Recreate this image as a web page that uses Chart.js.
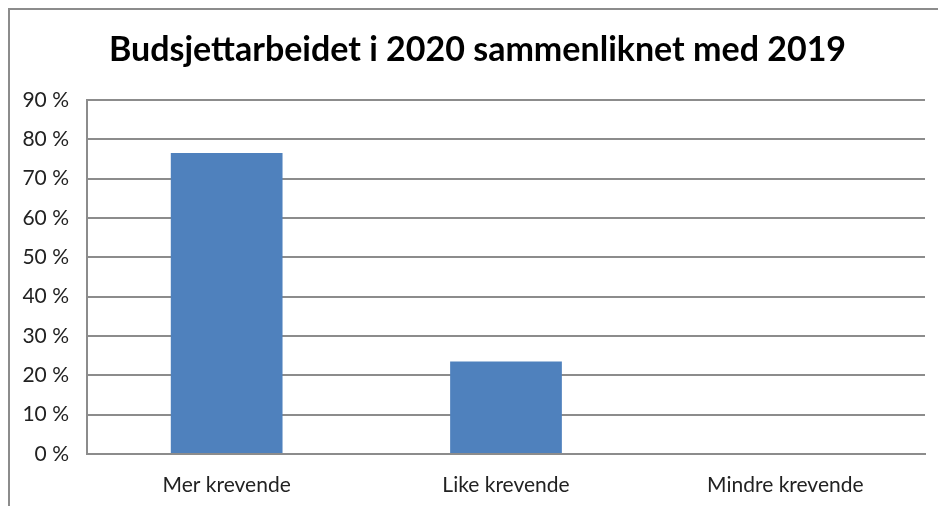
<!DOCTYPE html>
<html>
<head>
<meta charset="utf-8">
<script src="https://cdn.jsdelivr.net/npm/chart.js@4/dist/chart.umd.min.js"></script>
<style>
    html, body { margin: 0; padding: 0; background: #fff; }
    #wrap { position: relative; width: 938px; height: 506px; overflow: hidden; }
    #frame {
        position: absolute; left: 8px; top: 8px; width: 940px; height: 510px;
        border-top: 2px solid #8c8c8c; border-left: 2px solid #8c8c8c;
    }
    #chart { position: absolute; left: 0; top: 0; }
</style>
</head>
<body>
<div id="wrap">
    <div id="frame"></div>
    <canvas id="chart" width="938" height="506"></canvas>
</div>
<script>
// Data
const tittel = "Budsjettarbeidet i 2020 sammenliknet med 2019";
const kategorier = ["Mer krevende", "Like krevende", "Mindre krevende"];
const andeler = [76.5, 23.5, 0];
const yMaks = 90;
const ySteg = 10;

const fontFamilie = "Lato, 'Open Sans', sans-serif";
const gridFarge = "#8c8c8c";

const ctx = document.getElementById("chart").getContext("2d");

new Chart(ctx, {
    type: "bar",
    data: {
        labels: kategorier,
        datasets: [{
            data: andeler,
            backgroundColor: "#4f81bd",
            borderWidth: 0,
            barPercentage: 0.4,
            categoryPercentage: 1
        }]
    },
    options: {
        responsive: false,
        animation: false,
        layout: { padding: { left: 17, right: 0, top: 0, bottom: 0 } },
        plugins: {
            legend: { display: false },
            tooltip: { enabled: false },
            title: {
                display: true,
                text: tittel,
                color: "#000",
                font: { family: fontFamilie, size: 34, weight: "bold", lineHeight: 1.2 },
                padding: { top: 30, bottom: 29 }
            }
        },
        scales: {
            x: {
                grid: { display: false },
                border: { display: true, color: gridFarge, width: 2 },
                ticks: {
                    color: "#222",
                    padding: 11,
                    font: { family: fontFamilie, size: 21 }
                },
                afterFit: (scale) => { scale.height = 52; }
            },
            y: {
                min: 0,
                max: yMaks,
                grid: { color: gridFarge, lineWidth: 2, drawTicks: false },
                border: { display: true, color: gridFarge, width: 2 },
                ticks: {
                    stepSize: ySteg,
                    color: "#222",
                    padding: 18,
                    font: { family: fontFamilie, size: 21 },
                    callback: (v) => v + " %"
                },
                afterFit: (scale) => { scale.width = 70; }
            },
            // tom akse til høyre, bare for å gi marg
            hoyre: {
                type: "linear",
                position: "right",
                grid: { display: false },
                border: { display: false },
                ticks: { display: false },
                afterFit: (scale) => { scale.width = 13; }
            }
        }
    }
});
</script>
</body>
</html>
